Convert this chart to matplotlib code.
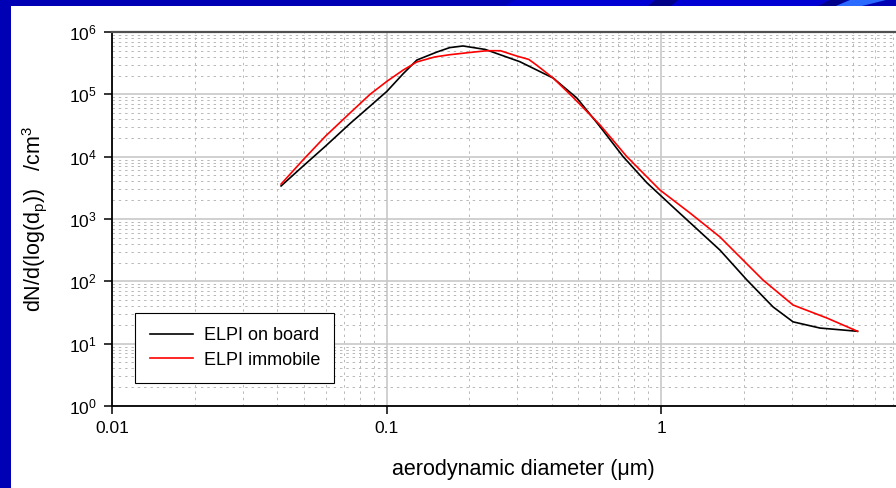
import numpy as np
import matplotlib
matplotlib.use("Agg")
import matplotlib.pyplot as plt
from matplotlib.patches import Rectangle, Polygon

plt.rcParams['font.family'] = ['Liberation Sans', 'DejaVu Sans']
plt.rcParams['mathtext.default'] = 'regular'

# particle size distributions
d_board = [0.0413, 0.0497, 0.060, 0.0736, 0.0871, 0.1004, 0.115, 0.129, 0.153,
           0.17, 0.19, 0.229, 0.306, 0.405, 0.494, 0.60, 0.728, 0.889, 1.107,
           1.641, 2.056, 2.559, 3.027, 3.796, 5.2]
n_board = [3390, 7080, 14800, 33900, 64600, 112000, 214000, 355000, 479000,
           562000, 597000, 525000, 334000, 182000, 87100, 30200, 10000, 3800,
           1550, 316, 105, 38.9, 22.4, 17.8, 15.8]

d_immob = [0.0413, 0.0497, 0.060, 0.0736, 0.0871, 0.1004, 0.115, 0.129, 0.15,
           0.17, 0.20, 0.232, 0.26, 0.298, 0.33, 0.352, 0.405, 0.477, 0.60,
           0.751, 0.991, 1.275, 1.641, 1.783, 2.353, 3.027, 4.03, 5.2]
n_immob = [3630, 8910, 21400, 50100, 100000, 162000, 245000, 331000, 398000,
           432000, 468000, 501000, 501000, 412000, 363000, 295000, 182000,
           90600, 32200, 10000, 2920, 1250, 514, 356, 105, 41.7, 25.7, 15.8]

series_names = ['ELPI on board', 'ELPI immobile']
series_colors = ['black', '#ff0000']

xticks = [0.01, 0.1, 1]
xticklabels = ['0.01', '0.1', '1']
yticks = [1, 10, 1e2, 1e3, 1e4, 1e5, 1e6]
yticklabels = ['$10^{0}$', '$10^{1}$', '$10^{2}$', '$10^{3}$', '$10^{4}$',
               '$10^{5}$', '$10^{6}$']

W, H = 896, 488
fig = plt.figure(figsize=(W / 100, H / 100), dpi=100)
fig.patch.set_facecolor('#0000b4')


def px(x, y):
    # pixel (from top-left) -> figure fraction
    return (x / W, 1 - y / H)


# slide background: white area plus a bit of the blue header decoration
fig.patches.append(Rectangle(px(11, 488), (W - 11) / W, (488 - 6) / H,
                             transform=fig.transFigure, facecolor='white',
                             edgecolor='none', zorder=-5))
for pts, col in [([(505, 6), (515, 0), (830, 0), (818, 6)], '#0000d2'),
                 ([(648, 6), (655, 0), (678, 0), (671, 6)], '#000088'),
                 ([(818, 6), (830, 0), (846, 0), (836, 6)], '#000088'),
                 ([(836, 6), (850, 0), (886, 0), (862, 6)], '#2a6aff')]:
    fig.patches.append(Polygon([px(a, b) for a, b in pts], closed=True,
                               transform=fig.transFigure, facecolor=col,
                               edgecolor='none', zorder=-5))

# axes: x runs to 10, which is cut off at the right edge of the picture
ax = fig.add_axes([112 / W, 82 / H, (935.5 - 112) / W, (406 - 32) / H])
ax.set_zorder(2)
ax.set_facecolor('white')
ax.set_xscale('log')
ax.set_yscale('log')
ax.set_xlim(0.01, 10)
ax.set_ylim(1, 1e6)

ax.plot(d_board, n_board, color=series_colors[0], lw=1.2, label=series_names[0], zorder=3)
ax.plot(d_immob, n_immob, color=series_colors[1], lw=1.2, label=series_names[1], zorder=3)

ax.set_xticks(xticks)
ax.set_xticklabels(xticklabels)
ax.set_yticks(yticks)
ax.set_yticklabels(yticklabels)
ax.tick_params(which='major', direction='out', length=6, width=1.1,
               labelsize=12.5, pad=5)
ax.tick_params(which='minor', length=0)

ax.grid(True, which='major', color='#c8c8c8', lw=1.2, ls='-')
ax.grid(True, which='minor', color='#b8b8b8', lw=0.7, ls=(0, (2.5, 4)))
ax.set_axisbelow(True)

ax.spines['left'].set_linewidth(1.3)
ax.spines['bottom'].set_linewidth(1.3)
ax.spines['top'].set_linewidth(1.6)
ax.spines['top'].set_color('#505050')
ax.spines['right'].set_visible(False)

ax.set_xlabel('aerodynamic diameter (\u03bcm)', fontsize=15.5, labelpad=16)
ax.set_ylabel('dN/d(log(d$_p$))   /cm$^3$', fontsize=15.5, labelpad=14)

leg = ax.legend(loc='lower left', bbox_to_anchor=(0.028, 0.0615),
                borderaxespad=0, fontsize=13, handlelength=2.4,
                handletextpad=0.6, fancybox=False, framealpha=1,
                edgecolor='black', borderpad=0.8, labelspacing=0.42)
leg.get_frame().set_linewidth(0.8)

fig.savefig('out.png', dpi=100, facecolor=fig.get_facecolor())
